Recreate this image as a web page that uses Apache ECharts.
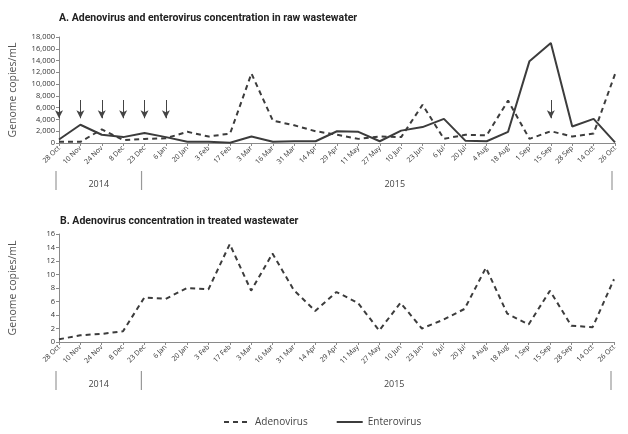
<!DOCTYPE html>
<html>
<head>
<meta charset="utf-8">
<script src="https://cdn.jsdelivr.net/npm/echarts@6/dist/echarts.min.js"></script>
<style>
html,body{margin:0;padding:0;background:#fff;}
#c{width:628px;height:434px;}
</style>
</head>
<body>
<div id="c"></div>
<script>
var categories = ['28 Oct','10 Nov','24 Nov','8 Dec','23 Dec','6 Jan','20 Jan','3 Feb','17 Feb','3 Mar','16 Mar','31 Mar','14 Apr','29 Apr','11 May','27 May','10 Jun','23 Jun','6 Jul','20 Jul','4 Aug','18 Aug','1 Sep','15 Sep','28 Sep','14 Oct','26 Oct'];
var adenoRaw = [200,200,2300,500,700,800,1900,1100,1600,11800,3800,3000,2000,1400,700,1100,1000,6500,700,1400,1300,7200,700,2000,1100,1600,11700];
var enteroRaw = [600,3100,1400,1000,1700,1000,200,200,50,1100,200,300,300,2000,1900,300,2100,2700,4100,400,300,1900,13900,17000,2800,4100,100];
var adenoTreated = [0.4,1.0,1.2,1.6,6.6,6.4,8.0,7.8,14.5,7.6,13.1,7.7,4.6,7.4,5.8,1.7,5.8,2.0,3.3,4.9,11.0,4.2,2.6,7.6,2.4,2.2,9.3];
var arrowDates = ['28 Oct','10 Nov','24 Nov','8 Dec','23 Dec','6 Jan','15 Sep'];
var arrowTop = 7300, arrowTip = 4200;
var yearLabels = ['2014','2015'];
var yearBounds = ['28 Oct','23 Dec','26 Oct'];

var FONT = "'Open Sans', 'DejaVu Sans', sans-serif";
var TFONT = "'Liberation Sans Narrow', 'Roboto', sans-serif";
var lineCol = '#3c3c3c';
var axisCol = '#8a8a8a';

var chart = echarts.init(document.getElementById('c'), null, {renderer:'canvas'});

function xAx(gi){
  return {
    type:'category', gridIndex:gi, data:categories, boundaryGap:false,
    axisLine:{lineStyle:{color:axisCol,width:1}},
    axisTick:{show:true,length:3,lineStyle:{color:axisCol}},
    axisLabel:{interval:0,rotate:45,fontSize:7,color:'#333',fontFamily:FONT,margin:4}
  };
}
function yAx(gi,max,interval,fmt){
  return {
    type:'value', gridIndex:gi, min:0, max:max, interval:interval,
    name:'Genome copies/mL', nameLocation:'middle', nameGap:40, nameRotate:90,
    nameTextStyle:{fontSize:10.5,color:'#555',fontFamily:FONT},
    axisLine:{show:true,lineStyle:{color:axisCol,width:1}},
    axisTick:{show:true,length:3,lineStyle:{color:axisCol}},
    splitLine:{show:false},
    axisLabel:{fontSize:7.5,color:'#333',fontFamily:FONT,margin:4,formatter:fmt}
  };
}

var option = {
  animation:false,
  backgroundColor:'#fff',
  title:[
    {text:'A. Adenovirus and enterovirus concentration in raw wastewater',left:54,top:8,
     textStyle:{fontSize:10.5,fontWeight:'bold',color:'#222',fontFamily:TFONT}},
    {text:'B. Adenovirus concentration in treated wastewater',left:55,top:211,
     textStyle:{fontSize:10.5,fontWeight:'bold',color:'#222',fontFamily:TFONT}}
  ],
  legend:{
    bottom:2, left:218, itemWidth:26, itemHeight:10, itemGap:28,
    itemStyle:{color:'rgba(0,0,0,0)',borderWidth:0,opacity:0},
    textStyle:{fontSize:10,color:'#444',fontFamily:FONT},
    data:['Adenovirus','Enterovirus']
  },
  grid:[
    {left:57,right:13,top:37,bottom:291},
    {left:57,right:14,top:234,bottom:92}
  ],
  xAxis:[xAx(0),xAx(1)],
  yAxis:[
    yAx(0,18000,2000,function(v){return v.toLocaleString('en-US');}),
    yAx(1,16,2,function(v){return String(v);})
  ],
  series:[
    {name:'Adenovirus',type:'line',xAxisIndex:0,yAxisIndex:0,data:adenoRaw,symbol:'none',
     lineStyle:{color:lineCol,width:2,type:[5,4]},itemStyle:{color:lineCol},
     markLine:{silent:true,symbol:['none','arrow'],symbolSize:[6,8],
       lineStyle:{color:'#444',width:1,type:'solid'},label:{show:false},
       data:arrowDates.map(function(d){return [{coord:[d,arrowTop]},{coord:[d,arrowTip]}];})}},
    {name:'Enterovirus',type:'line',xAxisIndex:0,yAxisIndex:0,data:enteroRaw,symbol:'none',
     lineStyle:{color:lineCol,width:2,type:'solid'},itemStyle:{color:lineCol}},
    {name:'Adenovirus',type:'line',xAxisIndex:1,yAxisIndex:1,data:adenoTreated,symbol:'none',
     lineStyle:{color:lineCol,width:2,type:[5,4]},itemStyle:{color:lineCol}}
  ]
};
chart.setOption(option);

function buildYears(){
  var g = [];
  [[0,171,190,184],[1,371,390,384]].forEach(function(cfg){
    var xs = yearBounds.map(function(d){return chart.convertToPixel({xAxisIndex:cfg[0]}, d);});
    xs.forEach(function(x){
      g.push({type:'line',shape:{x1:x-3,y1:cfg[1],x2:x-3,y2:cfg[2]},style:{stroke:'#999',lineWidth:1.2}});
    });
    g.push({type:'text',x:(xs[0]+xs[1])/2-3,y:cfg[3],style:{text:yearLabels[0],fill:'#444',font:'9px '+FONT,textAlign:'center',textVerticalAlign:'middle'}});
    g.push({type:'text',x:(xs[1]+xs[2])/2+15,y:cfg[3],style:{text:yearLabels[1],fill:'#444',font:'9px '+FONT,textAlign:'center',textVerticalAlign:'middle'}});
  });
  chart.setOption({graphic:g});
}
buildYears();
</script>
</body>
</html>
